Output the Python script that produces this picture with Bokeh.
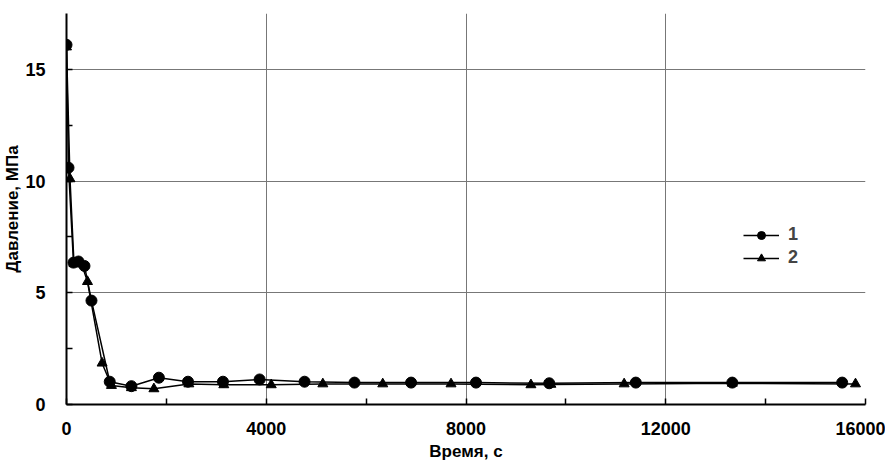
from bokeh.plotting import figure
from bokeh.models import Range1d, FixedTicker, Legend, LegendItem
from bokeh.embed import file_html
from bokeh.resources import INLINE

# Series 1 (circles)
t1 = [0, 40, 140, 240, 360, 500, 866, 1300, 1850, 2433, 3133, 3867, 4767, 5767, 6900, 8200, 9667, 11400, 13333, 15533]
p1 = [16.1, 10.6, 6.35, 6.4, 6.2, 4.65, 1.02, 0.82, 1.2, 1.02, 1.02, 1.12, 1.02, 0.98, 0.98, 0.98, 0.95, 0.98, 0.98, 0.98]
# Series 2 (triangles)
t2 = [0, 70, 150, 300, 420, 713, 900, 1300, 1750, 2450, 3150, 4100, 5133, 6333, 7700, 9300, 9700, 11167, 13333, 15800]
p2 = [16.0, 10.1, 6.3, 6.3, 5.5, 1.85, 0.85, 0.75, 0.7, 0.92, 0.88, 0.88, 0.92, 0.92, 0.92, 0.88, 0.9, 0.92, 0.95, 0.92]

x_major = [0, 4000, 8000, 12000, 16000]
x_minor = [2000, 6000, 10000, 14000]
y_major = [0, 5, 10, 15]
y_minor = [2.5, 7.5, 12.5]
labels = ["1", "2"]

FONT = "'Liberation Sans Narrow', 'Arial Narrow', 'Liberation Sans', sans-serif"

p = figure(width=885, height=465, output_backend="svg", toolbar_location=None,
           x_range=Range1d(0, 16000), y_range=Range1d(0, 17.5),
           min_border_left=65, min_border_right=20, min_border_top=13, min_border_bottom=61)
p.outline_line_color = None
p.background_fill_color = "white"

for ax in (p.xaxis[0], p.yaxis[0]):
    ax.axis_line_width = 2
    ax.axis_line_color = "black"
    ax.major_tick_in = 6
    ax.major_tick_out = 0
    ax.minor_tick_in = 6
    ax.minor_tick_out = 0
    ax.major_tick_line_color = "black"
    ax.minor_tick_line_color = "black"
    ax.major_tick_line_width = 1.5
    ax.minor_tick_line_width = 1.5
    ax.major_label_text_font = FONT
    ax.major_label_text_font_style = "bold"
    ax.major_label_text_font_size = "18px"
    ax.major_label_text_color = "black"
    ax.axis_label_text_font = FONT
    ax.axis_label_text_font_style = "bold"
    ax.axis_label_text_font_size = "17px"
    ax.axis_label_text_color = "black"

p.xaxis.ticker = FixedTicker(ticks=x_major, minor_ticks=x_minor)
p.yaxis.ticker = FixedTicker(ticks=y_major, minor_ticks=y_minor)
p.xaxis.major_label_standoff = 17
p.yaxis.major_label_standoff = 21
p.xaxis.axis_label = "Время, с"
p.yaxis.axis_label = "Давление, МПа"
p.xaxis.axis_label_standoff = 4
p.yaxis.axis_label_standoff = 0

p.xgrid.ticker = FixedTicker(ticks=x_major)
p.ygrid.ticker = FixedTicker(ticks=y_major)
p.xgrid.grid_line_color = "#777777"
p.ygrid.grid_line_color = "#777777"
p.xgrid.grid_line_width = 1
p.ygrid.grid_line_width = 1

l1 = p.line(t1, p1, line_color="black", line_width=1.5)
m1 = p.scatter(t1, p1, marker="circle", size=11, fill_color="black", line_color="black")
l2 = p.line(t2, p2, line_color="black", line_width=1.5)
m2 = p.scatter(t2, p2, marker="triangle", size=10, fill_color="black", line_color="black")

legend = Legend(items=[LegendItem(label=labels[0], renderers=[l1, m1]),
                       LegendItem(label=labels[1], renderers=[l2, m2])],
                location=(677, 136), glyph_width=36, glyph_height=20,
                label_standoff=9, spacing=2, padding=0, margin=0,
                border_line_color=None, background_fill_alpha=0,
                label_text_font=FONT, label_text_font_style="bold",
                label_text_font_size="18px")
p.add_layout(legend, "center")

open("out.html", "w").write(file_html(p, INLINE))
